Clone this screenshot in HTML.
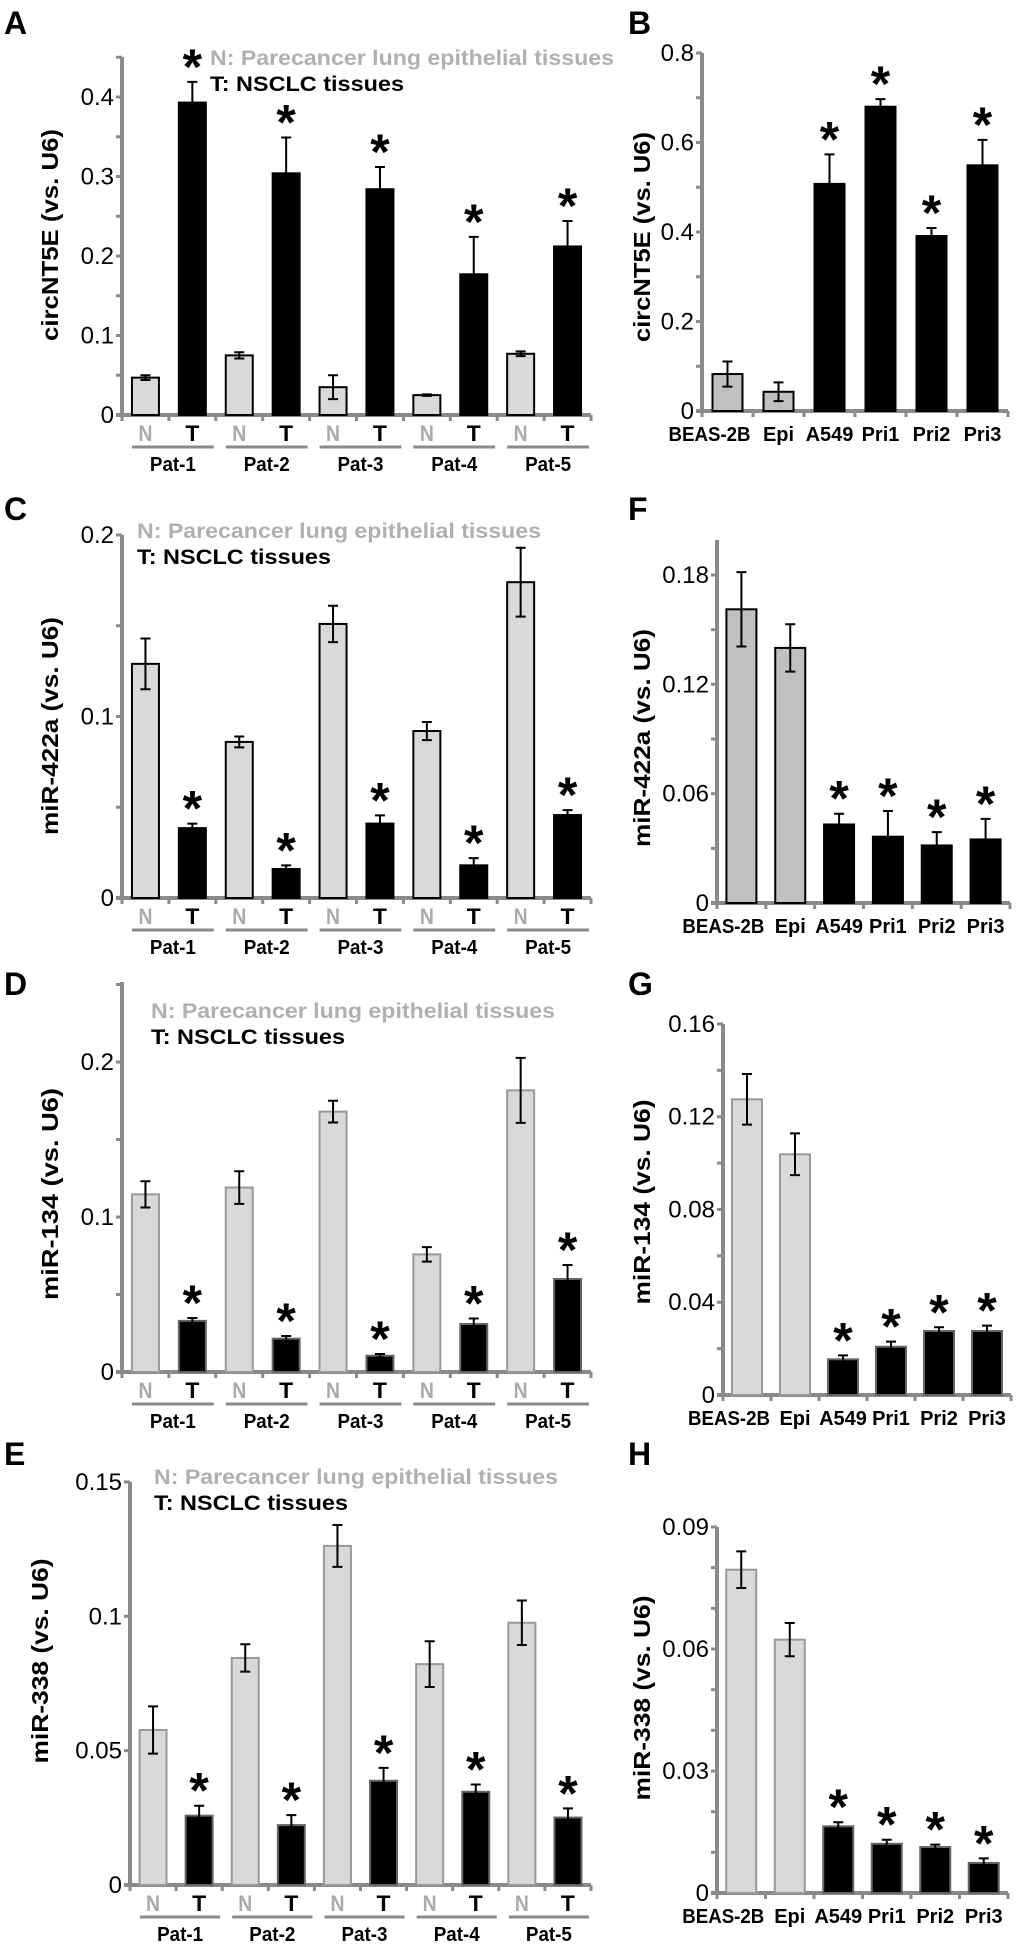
<!DOCTYPE html>
<html><head><meta charset="utf-8"><style>
html,body{margin:0;padding:0;background:#fff;}
svg{display:block;}
text{font-family:"Liberation Sans",Arial,sans-serif;}
</style></head><body>
<svg id="fig" width="1020" height="1950" viewBox="0 0 1020 1950" xmlns="http://www.w3.org/2000/svg"></svg>
<script>
// ---- data ----
const patients = ["Pat-1","Pat-2","Pat-3","Pat-4","Pat-5"];
const cells = ["BEAS-2B","Epi","A549","Pri1","Pri2","Pri3"];
// Panel A circNT5E tissues
const aN = [0.047,0.075,0.035,0.025,0.077];
const aNerr = [0.003,0.004,0.015,0.001,0.003];
const aT = [0.393,0.304,0.284,0.177,0.212];
const aTerr = [0.026,0.045,0.028,0.047,0.032];
// Panel C miR-422a tissues
const cN = [0.129,0.086,0.151,0.092,0.174];
const cNerr = [0.014,0.003,0.010,0.005,0.019];
const cT = [0.0385,0.016,0.041,0.018,0.0457];
const cTerr = [0.0025,0.002,0.0045,0.004,0.0027];
// Panel D miR-134 tissues
const dN = [0.1146,0.119,0.168,0.0759,0.1817];
const dNerr = [0.0085,0.0105,0.007,0.0047,0.021];
const dT = [0.033,0.0215,0.0105,0.031,0.060];
const dTerr = [0.0018,0.0017,0.0011,0.0035,0.009];
// Panel E miR-338 tissues
const eN = [0.0577,0.0845,0.1262,0.0822,0.0976];
const eNerr = [0.0088,0.0051,0.0078,0.0085,0.0083];
const eT = [0.0258,0.0223,0.0388,0.0347,0.0251];
const eTerr = [0.0037,0.0037,0.0048,0.0027,0.0034];
// Panel B circNT5E cells
const bVal = [0.0826,0.043,0.5075,0.68,0.391,0.549];
const bErr = [0.028,0.021,0.066,0.017,0.018,0.057];
// Panel F miR-422a cells
const fVal = [0.1612,0.140,0.0431,0.0364,0.0316,0.0349];
const fErr = [0.0204,0.013,0.0059,0.0141,0.0073,0.0113];
// Panel G miR-134 cells
const gVal = [0.1275,0.1038,0.0154,0.0208,0.0276,0.0276];
const gErr = [0.0109,0.009,0.0017,0.0022,0.0016,0.0023];
// Panel H miR-338 cells
const hVal = [0.0795,0.0623,0.0164,0.0121,0.0113,0.0074];
const hErr = [0.0045,0.0041,0.0010,0.0010,0.0006,0.0011];
// tick labels
const ticksA = ["0","0.1","0.2","0.3","0.4"];
const ticksB = ["0","0.2","0.4","0.6","0.8"];
const ticksC = ["0","0.1","0.2"];
const ticksD = ["0","0.1","0.2"];
const ticksE = ["0","0.05","0.1","0.15"];
const ticksF = ["0","0.06","0.12","0.18"];
const ticksG = ["0","0.04","0.08","0.12","0.16"];
const ticksH = ["0","0.03","0.06","0.09"];

const NS="http://www.w3.org/2000/svg";
const svg=document.getElementById('fig');
function mk(tag,attrs,parent,txt){const e=document.createElementNS(NS,tag);for(const k in attrs)e.setAttribute(k,attrs[k]);if(txt!==undefined)e.textContent=txt;(parent||svg).appendChild(e);return e;}
const AX="#8a8a8a";

function axes(g,p,ticks,minorStep,labelStep){
  const y=v=>p.zero-v*p.k;
  for(let v=0;y(v)>=p.top-1;v=+(v+minorStep).toFixed(5)){
    const t=mk('line',{x1:p.x-6,x2:p.x,y1:y(v),y2:y(v),stroke:AX,'stroke-width':3},g);
    
    
  }
  ticks.forEach((lab,i)=>{
    const t=mk('text',{x:p.x-8,y:y(i*labelStep)+8,'text-anchor':'end','font-size':24,fill:'#000'},g,lab);
    
    
  });
  const ya=mk('line',{x1:p.x,x2:p.x,y1:p.top,y2:p.zero+2,stroke:AX,'stroke-width':4},g);
  
  
  const xa=mk('line',{x1:p.x-6,x2:p.end,y1:p.zero,y2:p.zero,stroke:AX,'stroke-width':4},g);
  
  
  const tt=mk('text',{x:0,y:0,'text-anchor':'middle','font-size':23,'font-weight':'bold',transform:`translate(${p.tx},${p.ty}) rotate(-90)`,textLength:p.tl,lengthAdjust:'spacingAndGlyphs'},g,p.title);
  
  
  const L=mk('text',{x:p.lx,y:p.ly,'font-size':32,'font-weight':'bold'},g,p.letter);
  
  
  return y;
}
function bar(g,x,w,yTop,yZero,fill,stroke,name){
  const r=mk('rect',{x:x-w/2,y:yTop,width:w,height:yZero-yTop,fill:fill,stroke:stroke,'stroke-width':2},g);
  
  
}
function err(g,x,y1,y2){
  const e=mk('path',{d:`M${x},${y1}V${y2}M${x-5},${y1}H${x+5}M${x-5},${y2}H${x+5}`,stroke:'#000','stroke-width':2,fill:'none'},g);
  
  
}
function star(g,x,yErrTop){
  const s=mk('text',{x:x,y:yErrTop+2,'text-anchor':'middle','font-size':50,'font-weight':'bold'},g,'*');
  
  
}

function tissuePanel(p,N,Ne,T,Te,ticks,minor,lstep,nStroke){
  const g=mk('g',{});
  
  
  const y=axes(g,p,ticks,minor,lstep);
  const slot=(p.end-p.x)/10;
  for(let i=0;i<=10;i++){
    const d=mk('line',{x1:p.x+i*slot,x2:p.x+i*slot,y1:p.zero,y2:p.zero+6,stroke:AX,'stroke-width':3},g);
    
    
  }
  patients.forEach((pt,i)=>{
    const cn=p.x+slot*(2*i+0.5), ct=p.x+slot*(2*i+1.5);
    bar(g,cn,27,y(N[i]),p.zero,'#d9d9d9',nStroke,'bar-n-'+pt.toLowerCase());
    err(g,cn,y(N[i]+Ne[i]),y(N[i]-Ne[i]));
    bar(g,ct,27,y(T[i]),p.zero,'#000',nStroke==='#000'?'#000':'#666','bar-t-'+pt.toLowerCase());
    err(g,ct,y(T[i]+Te[i]),y(Math.max(0,T[i]-Te[i])));
    star(g,ct,y(T[i]+Te[i]));
    const nl=mk('text',{x:cn,y:p.zero+26,'text-anchor':'middle','font-size':22,'font-weight':'bold',fill:'#aaa',textLength:14,lengthAdjust:'spacingAndGlyphs'},g,'N');
    
    
    const tl=mk('text',{x:ct,y:p.zero+26,'text-anchor':'middle','font-size':22,'font-weight':'bold',fill:'#000',textLength:14,lengthAdjust:'spacingAndGlyphs'},g,'T');
    
    
    const x1=p.x+slot*2*i+10, x2=p.x+slot*(2*i+2)-2;
    const ul=mk('line',{x1:x1,x2:x2,y1:p.zero+32,y2:p.zero+32,stroke:AX,'stroke-width':3},g);
    
    
    const pl=mk('text',{x:(x1+x2)/2,y:p.zero+56,'text-anchor':'middle','font-size':20,'font-weight':'bold',textLength:46,lengthAdjust:'spacingAndGlyphs'},g,pt);
    
    
  });
  const l1=mk('text',{x:p.legx,y:p.legy+8,'font-size':21,'font-weight':'bold',fill:'#b0b0b0',textLength:404,lengthAdjust:'spacingAndGlyphs'},g,'N: Parecancer lung epithelial tissues');
  
  
  const l2=mk('text',{x:p.legx,y:p.legy+34,'font-size':21,'font-weight':'bold',fill:'#000',textLength:194,lengthAdjust:'spacingAndGlyphs'},g,'T: NSCLC tissues');
  
  
}

function cellPanel(p,V,E,ticks,minor,lstep,ctrlFill,stroke){
  const g=mk('g',{});
  
  
  const y=axes(g,p,ticks,minor,lstep);
  const slot=(p.end-p.x)/6;
  for(let i=0;i<=6;i++){
    const d=mk('line',{x1:p.x+i*slot,x2:p.x+i*slot,y1:p.zero,y2:p.zero+6,stroke:AX,'stroke-width':3},g);
    
    
  }
  cells.forEach((c,i)=>{
    const cx=p.x+slot*(i+0.5);
    const ctrl=i<2;
    bar(g,cx,30,y(V[i]),p.zero,ctrl?ctrlFill:'#000',ctrl?stroke:(stroke==='#000'?'#000':'#666'),'bar-'+c.toLowerCase());
    err(g,cx,y(V[i]+E[i]),y(Math.max(0,V[i]-E[i])));
    if(!ctrl) star(g,cx,y(V[i]+E[i]));
    const lx = i===0 ? cx-18 : cx;
    const cl=mk('text',{x:lx,y:p.zero+30,'text-anchor':'middle','font-size':20,'font-weight':'bold'},g,c);
    if(c==='BEAS-2B'){cl.setAttribute('textLength',82);cl.setAttribute('lengthAdjust','spacingAndGlyphs');}
    
    
  });
}

tissuePanel({letter:'A',lx:4,ly:34,x:122,top:57,zero:415,k:795,end:591,tx:58,ty:235,tl:212,title:'circNT5E (vs. U6)',legx:210,legy:57},aN,aNerr,aT,aTerr,ticksA,0.05,0.1,'#000');
tissuePanel({letter:'C',lx:4,ly:520,x:122,top:535,zero:898,k:1815,end:591,tx:58,ty:726,tl:218,title:'miR-422a (vs. U6)',legx:137,legy:530},cN,cNerr,cT,cTerr,ticksC,0.05,0.1,'#000');
tissuePanel({letter:'D',lx:4,ly:995,x:122,top:982,zero:1372,k:1550,end:591,tx:58,ty:1194,tl:212,title:'miR-134 (vs. U6)',legx:151,legy:1010},dN,dNerr,dT,dTerr,ticksD,0.05,0.1,'#999');
tissuePanel({letter:'E',lx:4,ly:1465,x:130,top:1482,zero:1885,k:2687,end:591,tx:48,ty:1661,tl:205,title:'miR-338 (vs. U6)',legx:154,legy:1476},eN,eNerr,eT,eTerr,ticksE,0.05,0.05,'#999');
cellPanel({letter:'B',lx:628,ly:34,x:702,top:53,zero:411,k:447.5,end:1008,tx:650,ty:237,tl:210,title:'circNT5E (vs. U6)'},bVal,bErr,ticksB,0.1,0.2,'#c0c0c0','#000');
cellPanel({letter:'F',lx:628,ly:520,x:717,top:540,zero:903,k:1822,end:1010,tx:650,ty:738,tl:218,title:'miR-422a (vs. U6)'},fVal,fErr,ticksF,0.03,0.06,'#c0c0c0','#000');
cellPanel({letter:'G',lx:628,ly:995,x:723,top:1024,zero:1395,k:2319,end:1011,tx:650,ty:1202,tl:205,title:'miR-134 (vs. U6)'},gVal,gErr,ticksG,0.02,0.04,'#d9d9d9','#999');
cellPanel({letter:'H',lx:628,ly:1465,x:717,top:1527,zero:1893,k:4067,end:1008,tx:650,ty:1698,tl:205,title:'miR-338 (vs. U6)'},hVal,hErr,ticksH,0.01,0.03,'#d9d9d9','#999');
</script>
</body></html>
